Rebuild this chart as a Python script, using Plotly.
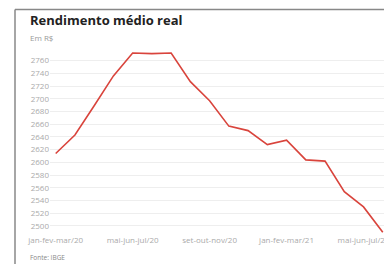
import plotly.graph_objects as go

periods = ["jan-fev-mar/20", "fev-mar-abr/20", "mar-abr-mai/20", "abr-mai-jun/20",
           "mai-jun-jul/20", "jun-jul-ago/20", "jul-ago-set/20", "ago-set-out/20",
           "set-out-nov/20", "out-nov-dez/20", "nov-dez-jan/21", "dez-jan-fev/21",
           "jan-fev-mar/21", "fev-mar-abr/21", "mar-abr-mai/21", "abr-mai-jun/21",
           "mai-jun-jul/21", "jun-jul-ago/21"]
rendimento = [2614, 2643, 2689, 2736, 2772, 2771, 2772, 2727, 2697, 2657,
              2650, 2628, 2635, 2604, 2602, 2554, 2530, 2490]
x_tick_labels = ["jan-fev-mar/20", "mai-jun-jul/20", "set-out-nov/20",
                 "jan-fev-mar/21", "mai-jun-jul/21"]
y_ticks = list(range(2500, 2761, 20))

# the page body adds an 8px offset; design in window pixels and subtract it
OFF = 8
W, H = 392 - OFF, 264 - OFF
FONT = "Open Sans"


def px(x):
    return (x - OFF) / W


def py(y):
    return 1 - (y - OFF) / H


xi = list(range(len(periods)))
fig = go.Figure()
fig.add_trace(go.Scatter(
    x=xi, y=rendimento, mode="lines",
    line=dict(color="#d9443c", width=1.6),
    customdata=periods, hovertemplate="%{customdata}: R$ %{y}<extra></extra>",
    cliponaxis=False,
))

tickvals = [periods.index(t) for t in x_tick_labels]

fig.update_layout(
    width=W, height=H,
    margin=dict(l=0, r=0, t=0, b=0),
    paper_bgcolor="white", plot_bgcolor="white",
    showlegend=False,
    font=dict(family=FONT, color="#aaaaaa", size=8),
    xaxis=dict(
        domain=[px(50), 1], range=[-0.296, 17.48],
        tickvals=tickvals, ticktext=x_tick_labels,
        showgrid=False, zeroline=False, showline=False, ticks="",
        automargin=False, tickfont=dict(size=8, color="#aaaaaa"),
    ),
    yaxis=dict(
        domain=[py(234), py(48)], range=[2487.4, 2779.9],
        tickvals=y_ticks, showgrid=True, gridcolor="#eeeeee", gridwidth=1,
        zeroline=False, showline=False, ticks="", automargin=False,
        tickfont=dict(size=8, color="#aaaaaa"),
    ),
)

fig.add_annotation(x=px(28), y=py(20), xref="paper", yref="paper",
                   text="<b>Rendimento médio real</b>", showarrow=False,
                   xanchor="left", yanchor="middle",
                   font=dict(family=FONT, size=13, color="#222222"))
fig.add_annotation(x=px(28), y=py(37), xref="paper", yref="paper",
                   text="Em R$", showarrow=False, xanchor="left", yanchor="middle",
                   font=dict(family=FONT, size=8, color="#999999"))
fig.add_annotation(x=px(28), y=py(257), xref="paper", yref="paper",
                   text="Fonte: IBGE", showarrow=False, xanchor="left", yanchor="middle",
                   font=dict(family=FONT, size=6.5, color="#888888"))
fig.add_annotation(x=px(386), y=py(240), xref="paper", yref="paper",
                   text="Estimativa<br>Prévia", showarrow=False, xanchor="left",
                   yanchor="middle", align="left",
                   font=dict(family=FONT, size=7, color="#333333"))

# card border (top and left edges)
fig.add_shape(type="line", xref="paper", yref="paper",
              x0=px(15), x1=1.0, y0=py(9.5), y1=py(9.5),
              line=dict(color="#888888", width=1.5))
fig.add_shape(type="line", xref="paper", yref="paper",
              x0=px(15), x1=px(15), y0=py(9.5), y1=0,
              line=dict(color="#888888", width=1.5))

fig.write_html("out.html")
